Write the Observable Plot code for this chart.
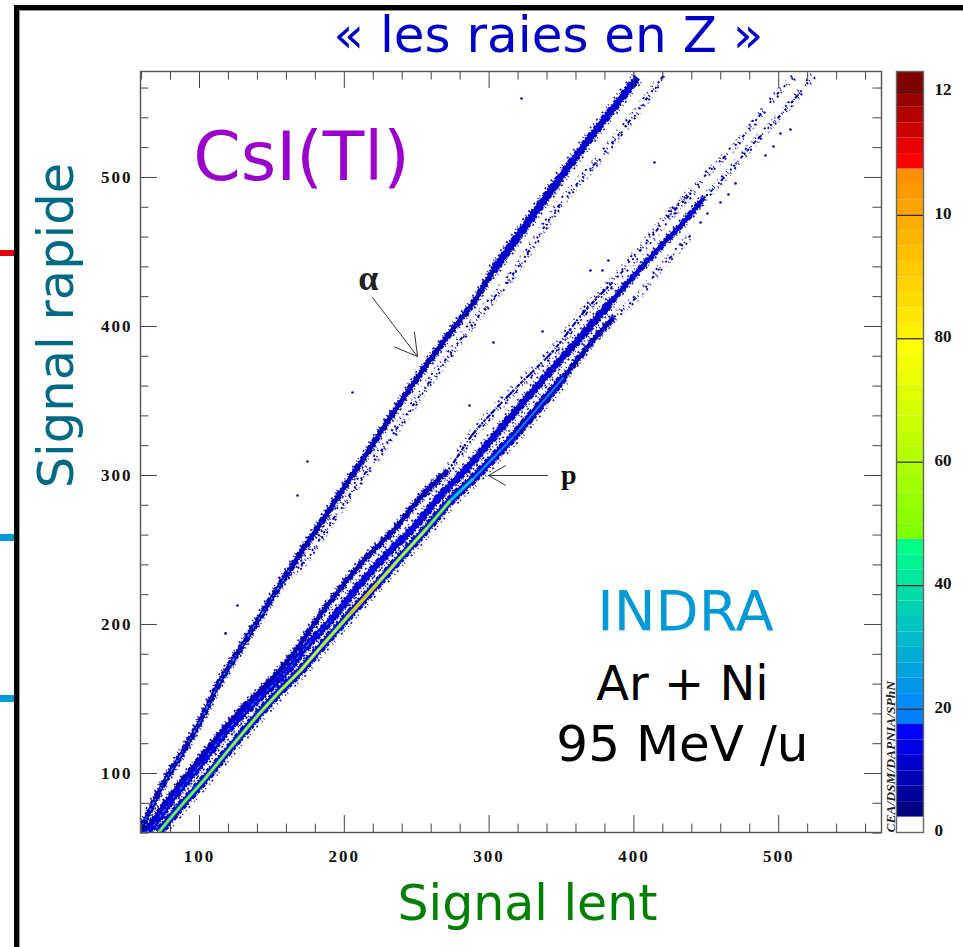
<!DOCTYPE html>
<html><head><meta charset="utf-8">
<script src="https://cdn.jsdelivr.net/npm/d3@7"></script>
<script src="https://cdn.jsdelivr.net/npm/@observablehq/plot@0.6"></script>
<style>
html,body{margin:0;padding:0;background:#fff}
#page{position:relative;width:963px;height:947px;overflow:hidden;background:#fff}
#page svg{position:absolute;left:0;top:0;background:transparent;overflow:visible}
#page svg.bar{left:880px}
.deco{position:absolute}
g[aria-label="x-axis tick label"],g[aria-label="y-axis tick label"],g[aria-label="bar labels"]{letter-spacing:2px}
</style></head><body><div id="page">
<div class="deco" style="left:14px;top:5px;width:5px;height:942px;background:#000"></div>
<div class="deco" style="left:14px;top:5px;width:949px;height:5px;background:#000"></div>
<div class="deco" style="left:19px;top:10px;width:1px;height:937px;background:#999"></div>
<div class="deco" style="left:19px;top:10px;width:944px;height:1px;background:#999"></div>
<div class="deco" style="left:0;top:250px;width:14px;height:6px;background:#e00010"></div>
<div class="deco" style="left:0;top:534px;width:14px;height:7px;background:#0099d8"></div>
<div class="deco" style="left:0;top:695px;width:14px;height:7px;background:#0099d8"></div>
</div>
<script>
// Ridge read-offs, in channel units
const alphaX=[59.3,61.3,75.1,89,100.7,114.5,130.4,162.8,183.6,199.4,216,227.1,250.6,273.3,289.2,303,349.3,372.1,402.5];
const alphaY=[63,66.4,93.3,115.4,135.6,162.4,187.2,237.6,267.8,291.3,315.4,332.2,365.8,396,416.1,437.6,500,529.5,567];
const alpha2X=[155.9,169.8,190.5,204.3,227.1,259.5,289.2,316.8,349.3,374.9,402.5,420.4];
const alpha2Y=[229.5,239.6,268.4,287.9,318.8,363.7,402.7,435.6,482.5,511.4,544.9,568.4];
const protonX=[71.7,86.9,102.8,121.4,140.1,155.9,169.8,183.6,204.3,222.9,238.8,257.5,273.3,289.2,304.4,316.8,351.4,370,385.9,404.5,418.4,430.1,439.1];
const protonY=[60.4,77.9,95.3,117.4,138.9,155.7,169.1,184.6,207.4,227.5,245,265.1,283.2,298,313.4,326.1,365.8,388.6,406,422.1,439.6,451,461.1];
const protonCore=[50,52,55,60,65,72,78,85,95,85,70,55,35,27,22,18,10,8,7,6,5,5,5];
const deutonX=[63.4,68.2,82,98.6,119.3,137.3,160.8,173.2,190.5,211.2,229.8,247.8,266.4,285.1,312.7,344.5,363.1,383.8,404.5,420.4,434.2,448,458.4,482.6,506,524];
const deutonY=[60.4,65.1,83.9,103.4,128.9,147,169.1,184.6,202.7,227.5,247.6,265.1,286.6,305.3,336.9,372.4,392.6,416.1,438.9,455.7,469.8,485.9,495.9,522.7,546.9,568.4];
const tritonX=[59.9,66.2,77.9,93.8,112.4,128.3,149,164.9,185.6,213.3,234,252.6,271.3,289.2,316.8,344.5,365.2,385.2,404.5,423.2,441.1,448,468.8,499.2,510.2];
const tritonY=[60.4,66.4,81.9,102,124.2,142.3,162.4,180.5,209.4,242.9,263.1,285.2,303.3,328.2,357,383.9,409.4,429.5,451,473.1,491.2,500,520.1,556.3,567.1];
const strayX=[205.7,322.4,174.6,286.5,336.9,303,370,382.4,378.3,414.2,508.1,501.2,496.4,490.9,470.2,465.3,459.8,450.8,446,432.2,167.7,118,126.2];
const strayY=[355.7,553,309.4,347,396.6,389.2,437.6,444.3,437.6,510,532.2,529.5,520.8,514.7,496,488.6,483.2,475.8,469.8,455,286.6,194,212.7];
const majorTicks=[100,200,300,400,500];
const minorTicks=[60,80,120,140,160,180,220,240,260,280,320,340,360,380,420,440,460,480,520,540,560];
const barTicks=[0,20,40,60,80,100,120];
const barLabels=["0","20","40","60","80","10","12"];

const blues=["#000080","#00009a","#0000b4","#0000cd","#0000e6","#0000ff"];
const cyans=d3.quantize(d3.interpolateRgb("#0080ff","#00ff88"),12);
const greens=d3.quantize(d3.interpolateRgb("#80ff00","#ffff00"),13);
const oranges=d3.quantize(d3.interpolateRgb("#ffef00","#ff9000"),11);
const reds=["#ff0000","#e60000","#cc0000","#b30000","#990000","#800000"];
const palette=["#ffffff",...blues,...cyans,...greens,...oranges,...reds];
const thresholds=d3.range(1,49).map(i=>i*2.5);
const color={type:"threshold",domain:thresholds,range:palette};
const barMax=123.3;

const rows=(xs,ys,zs)=>xs.map((x,i)=>({x,y:ys[i],z:zs?zs[i]:0}));
const alpha=rows(alphaX,alphaY), alpha2=rows(alpha2X,alpha2Y);
const proton=rows(protonX,protonY,protonCore), deuton=rows(deutonX,deutonY), triton=rows(tritonX,tritonY);
// part of a ridge between two heights, keeping one neighbour on each side so parts join
const part=(r,a,b)=>r.filter((d,i)=>(d.y>=a&&d.y<=b)||(r[i+1]&&r[i+1].y>=a&&r[i+1].y<=b)||(r[i-1]&&r[i-1].y>=a&&r[i-1].y<=b));
const band=(r,level,w,dash,op,off=0)=>Plot.line(r,{x:"x",y:"y",stroke:()=>level,z:null,curve:"catmull-rom",clip:true,strokeWidth:w,strokeDasharray:dash,strokeOpacity:op??1,strokeLinecap:"butt",dx:off,dy:off});
const varying=(r,f,w)=>Plot.line(r,{x:"x",y:"y",stroke:f,z:null,curve:"catmull-rom",clip:true,strokeWidth:w,strokeLinecap:"butt"});

const edgeA="3 2 1 1 4 1 2 3 1 2 5 1 1 1";
const edgeB="2 1 5 2 1 3 3 1 2 4 1 1 4 2";
const fringeA="1 3 2 6 1 2 1 9 2 2 1 5";
const fringeB="2 5 1 2 1 8 2 3 1 4 2 7";
const speckA="3 2 1 4 2 1 1 7 2 3 4 2 1 11 2 2 1 6";
const speckB="1 6 2 9 1 3 2 13 1 5 2 4 1 10";
const speckC="2 8 1 4 1 12 2 5 1 7 1 15 2 3";
// dense ridge: solid core, blocky edges, scattered outer pixels
const ridge=(r,level,half)=>[
  band(r,level,half*1.4),
  band(r,level,2,edgeA,1,half*0.55),
  band(r,level,2,edgeB,1,-half*0.55),
  band(r,Math.max(level-3,3),1.6,fringeA,0.9,half*0.95),
  band(r,Math.max(level-3,3),1.6,fringeB,0.9,-half*0.95)
];
// sparse ridge: parallel runs of isolated pixels
const speckled=(r,level,spread)=>[
  band(r,level,2,speckA,1,0),
  band(r,level,1.8,speckB,1,spread*0.8),
  band(r,level,1.8,speckC,1,-spread*0.8),
  band(r,3,1.4,speckC,0.45,spread*1.2),
  band(r,3,1.4,speckB,0.45,-spread*1.2)
];

const label=(t,x,y,size,fill,extra={})=>Plot.text([t],{x:()=>x,y:()=>y,text:d=>d,fontSize:size,fill,fontFamily:"'DejaVu Sans', sans-serif",...extra});
const serif={fontFamily:"'Liberation Serif', serif"};

const main=Plot.plot({
  width:963,height:947,marginLeft:140,marginRight:82,marginTop:71,marginBottom:115,
  x:{domain:[59.25,571]},y:{domain:[60.4,571.1]},color,
  marks:[
    speckled(alpha2,8,2.4),
    band(alpha2,9,1.8,fringeA,1,0.8),
    ridge(part(alpha,0,490),9,3.2),
    ridge(part(alpha,490,600),10,4.4),
    band(part(alpha,0,190),25,1.5,speckA),
    ridge(part(triton,0,290),9,3),
    speckled(part(triton,290,480),9,2.8),
    band(part(triton,290,420),9,2.2,edgeA),
    band(part(triton,290,420),9,1.6,fringeA,1,1.8),
    band(part(triton,420,480),9,1.8,fringeB,1,-1),
    speckled(part(triton,480,600),8,1.8),
    ridge(part(deuton,0,400),10,4.2),
    ridge(part(deuton,400,480),10,3),
    speckled(part(deuton,490,600),9,2),
    band(part(deuton,490,600),9,1.8,fringeA),
    band(part(deuton,0,300),16,2.5,edgeA),
    band(part(deuton,0,190),28,1.2,speckA),
    ridge(part(proton,0,335),10,5.2),
    band(part(proton,0,335),17,5),
    ridge(part(proton,335,405),9,3),
    speckled(part(proton,410,600),8,2),
    varying(part(proton,0,335),d=>d.z*0.5,3.6),
    varying(part(proton,0,335),d=>d.z,2),
    Plot.dot(rows(strayX,strayY),{x:"x",y:"y",r:1.3,fill:()=>10,stroke:null}),
    // tick marks
    Plot.ruleX(majorTicks,{x:d=>d,y1:60.4,y2:71.8,stroke:"#444"}),
    Plot.ruleX(minorTicks,{x:d=>d,y1:60.4,y2:66.1,stroke:"#444"}),
    Plot.ruleX(majorTicks,{x:d=>d,y1:571.1,y2:559.7,stroke:"#444"}),
    Plot.ruleX(minorTicks,{x:d=>d,y1:571.1,y2:565.4,stroke:"#444"}),
    Plot.ruleY(majorTicks,{y:d=>d,x1:59.25,x2:71,stroke:"#444"}),
    Plot.ruleY(minorTicks,{y:d=>d,x1:59.25,x2:65.1,stroke:"#444"}),
    Plot.ruleY(majorTicks,{y:d=>d,x1:571,x2:559.3,stroke:"#444"}),
    Plot.ruleY(minorTicks,{y:d=>d,x1:571,x2:565.1,stroke:"#444"}),
    Plot.frame({stroke:"#555",strokeWidth:1.4}),
    Plot.axisX({ticks:majorTicks,tickSize:0,tickPadding:17,label:null,fontSize:17,fontWeight:"bold",fill:"#111",...serif}),
    Plot.axisY({ticks:majorTicks,tickSize:0,tickPadding:8,label:null,fontSize:17,fontWeight:"bold",fill:"#111",...serif}),
    // annotations
    Plot.arrow([0],{x1:()=>219.5,y1:()=>419.4,x2:()=>250.6,y2:()=>379.8,stroke:"#333",strokeWidth:1,headLength:38,headAngle:60,bend:0,inset:0}),
    Plot.arrow([0],{x1:()=>340.3,y1:()=>300,x2:()=>299.6,y2:()=>300,stroke:"#333",strokeWidth:1,headLength:38,headAngle:60,bend:0,inset:0}),
    label("α",216.5,432,36,"#222",{fontWeight:"bold",...serif}),
    label("p",355,300,28,"#111",{fontWeight:"bold",...serif}),
    label("CsI(Tl)",170.4,512.7,68,"#9900cc"),
    label("INDRA",435.6,208,56,"#0099d8"),
    label("Ar + Ni",433.5,159.7,48,"#000"),
    label("95 MeV /u",433.5,118.8,50,"#000"),
    label("CEA/DSM/DAPNIA/SPhN",577,60.4,13.5,"#222",{rotate:-90,textAnchor:"start",fontWeight:"bold",fontStyle:"italic",...serif}),
    label("« les raies en Z »",341,594.6,50,"#0000c8"),
    label("Signal lent",326.5,12,49,"#008000"),
    label("Signal rapide",1.9,400.6,49.5,"#006a85",{rotate:-90})
  ]
});
const bar=Plot.plot({
  className:"bar",
  width:83,height:947,marginLeft:16,marginRight:40,marginTop:71,marginBottom:115,
  x:{domain:[0,1],axis:null},y:{domain:[0,barMax],axis:null},color,
  marks:[
    Plot.rect([0,...thresholds],{x1:0,x2:1,y1:d=>d,y2:d=>d===120?barMax:d+2.5,fill:d=>d}),
    Plot.ruleY(barTicks.slice(1),{y:d=>d,stroke:"#222",strokeWidth:1.2}),
    Plot.frame({stroke:"#666",strokeWidth:1.4}),
    Plot.text(barTicks,{ariaLabel:"bar labels",x:1,y:d=>d,dx:11,dy:-2,text:(d,i)=>barLabels[i],textAnchor:"start",fontSize:17,fontWeight:"bold",fill:"#111",...serif})
  ]
});
document.getElementById("page").append(main,bar);
</script></body></html>
